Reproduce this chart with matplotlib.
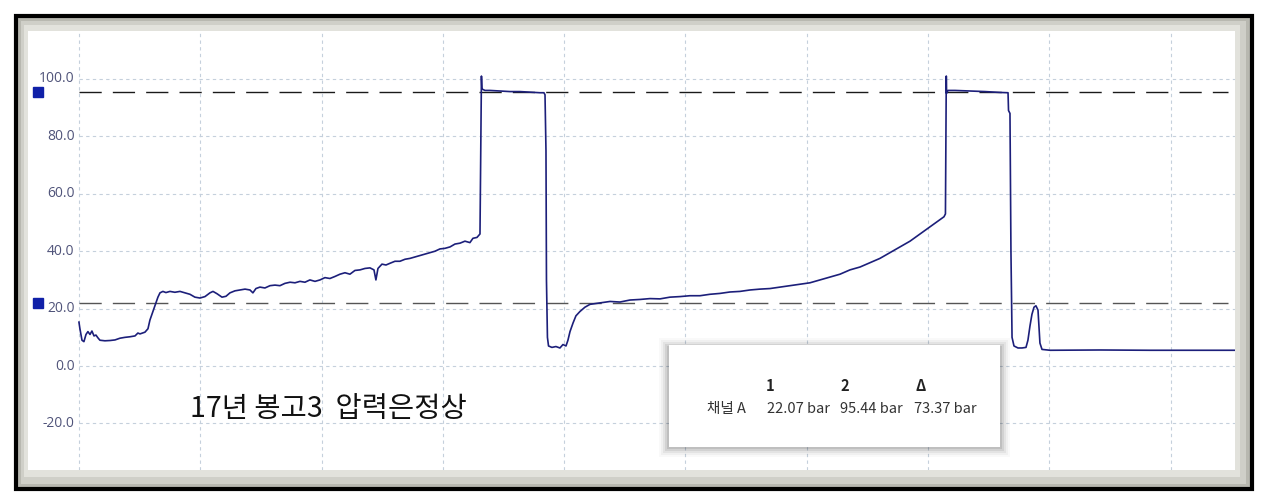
import numpy as np
import matplotlib.pyplot as plt
from matplotlib.patches import Rectangle

plt.rcParams['font.family'] = ['Noto Sans CJK KR', 'DejaVu Sans']

# trace: time in grid divisions, pressure in bar
t = [0.000, 0.008, 0.025, 0.041, 0.058, 0.074, 0.091, 0.107, 0.124, 0.140,
     0.157, 0.173, 0.214, 0.256, 0.297, 0.338, 0.379, 0.420, 0.462, 0.486,
     0.503, 0.544, 0.569, 0.585, 0.610, 0.635, 0.651, 0.668, 0.692, 0.717,
     0.750, 0.791, 0.833, 0.874, 0.915, 0.956, 0.998, 1.039, 1.080, 1.105,
     1.138, 1.179, 1.212, 1.245, 1.286, 1.327, 1.369, 1.410, 1.434, 1.459,
     1.492, 1.533, 1.575, 1.616, 1.657, 1.698, 1.740, 1.781, 1.822, 1.863,
     1.904, 1.946, 1.987, 2.028, 2.069, 2.110, 2.152, 2.193, 2.234, 2.275,
     2.317, 2.358, 2.399, 2.432, 2.448, 2.465, 2.498, 2.531, 2.564, 2.605,
     2.646, 2.688, 2.729, 2.770, 2.811, 2.852, 2.894, 2.935, 2.976, 3.017,
     3.059, 3.100, 3.141, 3.182, 3.223, 3.248, 3.281, 3.306,
     3.318, 3.322, 3.347, 3.388, 3.471, 3.553, 3.636, 3.718, 3.800, 3.833,
     3.842, 3.850, 3.854, 3.862, 3.871, 3.899, 3.932, 3.965, 3.990, 4.015,
     4.031, 4.048, 4.073, 4.097, 4.130, 4.171, 4.213, 4.295, 4.378, 4.460,
     4.542, 4.625, 4.707, 4.790, 4.872, 4.955, 5.037, 5.120, 5.202, 5.284,
     5.367, 5.449, 5.532, 5.614, 5.697, 5.779, 5.862, 5.944, 6.026, 6.109,
     6.191, 6.274, 6.356, 6.439, 6.521, 6.603, 6.686, 6.768, 6.851, 6.933,
     7.016, 7.082, 7.131, 7.143,
     7.150, 7.152, 7.164, 7.222, 7.345, 7.469, 7.593, 7.659, 7.663, 7.675,
     7.683, 7.692, 7.708, 7.741, 7.774, 7.807, 7.823, 7.840, 7.856, 7.873,
     7.889, 7.906, 7.914, 7.922, 7.939, 8.005, 8.417, 8.829, 9.241, 9.530]
p = [15.3, 13.0, 9.0, 8.5, 11.0, 12.0, 11.0, 12.2, 10.5, 10.8,
     9.8, 9.0, 8.8, 8.9, 9.1, 9.7, 10.0, 10.2, 10.5, 11.5,
     11.2, 11.8, 13.0, 16.0, 19.0, 22.0, 24.0, 25.5, 26.0, 25.6,
     26.0, 25.7, 26.0, 25.5, 25.0, 24.0, 23.7, 24.2, 25.5, 26.0,
     25.2, 24.0, 24.3, 25.5, 26.2, 26.5, 26.8, 26.5, 25.5, 27.0,
     27.5, 27.2, 28.0, 28.2, 28.0, 28.8, 29.2, 29.0, 29.5, 29.2,
     30.0, 29.5, 30.0, 30.8, 30.5, 31.2, 32.0, 32.5, 32.0, 33.3,
     33.5, 34.0, 34.2, 33.5, 30.0, 34.0, 35.5, 35.2, 35.8, 36.5,
     36.5, 37.2, 37.5, 38.0, 38.5, 39.0, 39.5, 40.0, 40.8, 41.0,
     41.5, 42.5, 42.8, 43.5, 43.0, 44.5, 44.8, 46.0,
     101.0, 96.5, 96.0, 96.0, 95.8, 95.6, 95.6, 95.4, 95.2, 95.2,
     94.5, 75.0, 30.0, 10.0, 7.0, 6.5, 6.8, 6.3, 7.5, 7.0,
     9.0, 12.0, 15.0, 17.5, 19.0, 20.5, 21.5, 22.0, 22.5, 22.3,
     23.0, 23.2, 23.5, 23.4, 24.0, 24.2, 24.5, 24.5, 25.0, 25.3,
     25.8, 26.0, 26.5, 26.8, 27.0, 27.5, 28.0, 28.5, 29.0, 30.0,
     31.0, 32.0, 33.5, 34.5, 36.0, 37.5, 39.5, 41.5, 43.5, 46.0,
     48.5, 50.5, 52.0, 53.0,
     101.0, 95.0, 96.0, 96.0, 95.8, 95.6, 95.3, 95.2, 89.0, 88.0,
     40.0, 10.0, 7.0, 6.3, 6.3, 6.5, 9.0, 14.0, 18.0, 20.5,
     21.0, 19.5, 14.0, 8.0, 5.8, 5.5, 5.6, 5.5, 5.5, 5.5]

cursor_1 = 22.07
cursor_2 = 95.44
delta = cursor_2 - cursor_1

y_ticks = [-20, 0, 20, 40, 60, 80, 100]
x_grid = list(range(10))

note = "17년 봉고3  압력은정상"

W, H = 1266, 503


def fbox(x0, y0, x1, y1):
    # pixel box (top-left origin) -> figure fraction rect
    return (x0 / W, 1 - y1 / H, (x1 - x0) / W, (y1 - y0) / H)


fig = plt.figure(figsize=(W / 100, H / 100), dpi=100)
fig.patch.set_facecolor("white")

# photo-style frame: gray shadow inside a black border
l, b, w, h = fbox(16, 16, 1252, 489)
fig.add_artist(Rectangle((l, b), w, h, transform=fig.transFigure,
                         facecolor="#b8b8b0", edgecolor="black", linewidth=3.0, zorder=0))
l, b, w, h = fbox(21, 21, 1246, 484)
fig.add_artist(Rectangle((l, b), w, h, transform=fig.transFigure,
                         facecolor="#cfcfc8", edgecolor="none", zorder=0))
l, b, w, h = fbox(24, 25, 1240, 477)
fig.add_artist(Rectangle((l, b), w, h, transform=fig.transFigure,
                         facecolor="#e2e2dc", edgecolor="none", zorder=0))

ax = fig.add_axes(fbox(28, 31, 1235, 470))
ax.set_facecolor("white")
ax.set_xlim(-0.42, 9.53)
ax.set_ylim(-36.2, 116.7)
for s in ax.spines.values():
    s.set_visible(False)
ax.set_xticks([])
ax.set_yticks([])

grid_kw = dict(color="#c5d0dc", linewidth=0.8, linestyle=(0, (3, 3)), zorder=1)
for gx in x_grid:
    ax.axvline(gx, **grid_kw)
for gy in y_ticks:
    ax.plot([0, 9.53], [gy, gy], **grid_kw)
    ax.text(-0.035, gy, f"{gy:.1f}", ha="right", va="center", fontsize=10,
            color="#50547a", family=["Open Sans", "DejaVu Sans"])

# cursors
ax.plot([0, 9.47], [cursor_2, cursor_2], color="#1a1a1a", linewidth=1.0,
        linestyle=(0, (16, 8)), zorder=2)
ax.plot([0, 9.47], [cursor_1, cursor_1], color="#555555", linewidth=1.0,
        linestyle=(0, (16, 8)), zorder=2)
ax.plot([-0.338, -0.338], [cursor_2, cursor_1], linestyle="none", marker="s",
        markersize=6.5, color="#1020a8", zorder=3)

ax.plot(t, p, color="#1c1f7a", linewidth=1.2, zorder=4)

ax.text(0.915, -15.0, note, fontsize=20.5, color="#111111", ha="left", va="center")

# measurement box with soft shadow
for i, a in enumerate([0.025, 0.035, 0.05, 0.07, 0.09]):
    o = 10 - 2 * i
    l, b, w, h = fbox(669 - o, 345 - o + 3, 1000 + o, 447 + o)
    fig.add_artist(Rectangle((l, b), w, h, transform=fig.transFigure,
                             facecolor="black", alpha=a, edgecolor="none", zorder=5))
box = fig.add_axes(fbox(669, 345, 1000, 447), zorder=6)
box.set_facecolor("white")
box.set_xlim(669, 1000)
box.set_ylim(447, 345)
for s in box.spines.values():
    s.set_visible(False)
box.set_xticks([])
box.set_yticks([])

hdr = dict(fontsize=10.5, fontweight="bold", color="#222222", va="center", ha="left")
box.text(766, 386, "1", **hdr)
box.text(840, 386, "2", **hdr)
box.text(915, 386, "Δ", **hdr)
row = dict(fontsize=10.5, color="#333333", va="center", ha="left")
box.text(707, 409, "채널 A", **row)
box.text(767, 409, f"{cursor_1:.2f} bar", **row)
box.text(840, 409, f"{cursor_2:.2f} bar", **row)
box.text(914, 409, f"{delta:.2f} bar", **row)

fig.savefig("out.png", dpi=100, facecolor="white")
